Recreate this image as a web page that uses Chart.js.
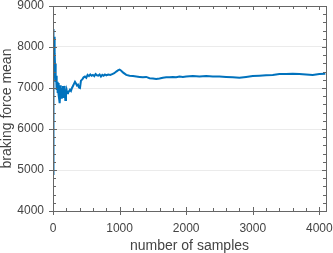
<!DOCTYPE html>
<html>
<head>
<meta charset="utf-8">
<script src="https://cdn.jsdelivr.net/npm/chart.js@4/dist/chart.umd.min.js"></script>
<style>
  html, body { margin: 0; padding: 0; background: #fff; }
</style>
</head>
<body>
<canvas id="meanChart" width="333" height="253"></canvas>
<script>
// running mean of braking force vs number of samples
const samples = [0, 2, 4, 6, 8, 10, 13, 16, 19, 22, 26, 30, 34, 38, 42, 46, 50, 55, 60, 65,
    70, 76, 82, 88, 95, 100, 106, 112, 118, 125, 132, 140, 148, 155, 162, 168, 175, 185, 195, 205,
    215, 225, 240, 255, 270, 285, 300, 315, 330, 345, 360, 375, 390, 405, 420, 440, 460, 480, 500, 520,
    540, 560, 580, 600, 620, 640, 660, 680, 700, 720, 740, 760, 780, 800, 830, 860, 890, 920, 950, 975,
    1000, 1025, 1050, 1075, 1100, 1150, 1200, 1250, 1300, 1350, 1400, 1450, 1500, 1550, 1600, 1650, 1700, 1750, 1800, 1850,
    1900, 1950, 2000, 2100, 2200, 2300, 2400, 2500, 2600, 2700, 2800, 2900, 3000, 3100, 3200, 3300, 3400, 3500, 3600, 3700,
    3800, 3900, 4000, 4090];
const meanForce = [4900, 6300, 7600, 8100, 8440, 8300, 8000, 8250, 7900, 8100, 7700, 7850, 7400, 7600, 7150, 7300, 7050, 7220, 6950, 7150,
    6880, 6950, 7120, 6820, 6700, 6630, 6800, 7070, 6900, 6760, 7000, 6900, 7050, 6780, 6850, 7050, 6950, 6710, 6850, 6950,
    6870, 6880, 6920, 6960, 6930, 7000, 7050, 7100, 7150, 7110, 7060, 7080, 7010, 7000, 7180, 7210, 7260, 7280, 7250, 7320,
    7290, 7330, 7300, 7320, 7290, 7340, 7310, 7300, 7330, 7280, 7320, 7300, 7330, 7310, 7330, 7320, 7340, 7360, 7400, 7430,
    7450, 7420, 7380, 7350, 7320, 7300, 7290, 7280, 7270, 7260, 7270, 7240, 7230, 7220, 7230, 7250, 7260, 7260, 7270, 7260,
    7280, 7270, 7280, 7290, 7280, 7290, 7280, 7280, 7270, 7260, 7250, 7270, 7290, 7300, 7310, 7320, 7340, 7340, 7350, 7340,
    7330, 7320, 7340, 7350];
const xTicks = [0, 1000, 2000, 3000, 4000];
const yTicks = [4000, 5000, 6000, 7000, 8000, 9000];

const points = samples.map((s, i) => ({ x: s, y: meanForce[i] }));

const fontFamily = "'Liberation Sans', Arial, Helvetica, sans-serif";
const textColor = '#444';

// minor ticks every 200 on both axes, labels only on the majors
function stepTicks(min, max) {
    const out = [];
    for (let v = min; v <= max; v += 200) out.push({ value: v });
    return out;
}

function fixBox(scale) {
    scale.paddingLeft = 0;
    scale.paddingRight = 0;
    scale.paddingTop = 0;
    scale.paddingBottom = 0;
}

// matlab-ish box with ticks on all four sides
const frameTicks = {
    id: 'frameTicks',
    afterDraw(chart) {
        const { ctx, chartArea: a, scales: { x, y } } = chart;
        ctx.save();
        ctx.strokeStyle = '#666';
        ctx.lineWidth = 1;
        ctx.beginPath();
        x.ticks.forEach(t => {
            const px = Math.round(x.getPixelForValue(t.value)) + 0.5;
            const major = xTicks.includes(t.value);
            const len = major ? 4 : 3;
            ctx.moveTo(px, a.bottom + (major ? 4 : 0));
            ctx.lineTo(px, a.bottom - len);
            ctx.moveTo(px, a.top);
            ctx.lineTo(px, a.top + len);
        });
        y.ticks.forEach(t => {
            const py = Math.round(y.getPixelForValue(t.value)) + 0.5;
            const major = yTicks.includes(t.value);
            const len = major ? 4 : 3;
            ctx.moveTo(a.left - (major ? 4 : 0), py);
            ctx.lineTo(a.left + len, py);
            ctx.moveTo(a.right, py);
            ctx.lineTo(a.right - len, py);
        });
        ctx.stroke();
        ctx.strokeRect(Math.round(a.left) + 0.5, Math.round(a.top) + 0.5,
            Math.round(a.right - a.left), Math.round(a.bottom - a.top));
        ctx.restore();
    }
};

new Chart('meanChart', {
    type: 'line',
    data: {
        datasets: [{
            data: points,
            borderColor: 'rgb(0, 114, 189)',
            borderWidth: 2,
            pointRadius: 0,
            tension: 0,
            fill: false
        }]
    },
    options: {
        responsive: false,
        animation: false,
        layout: { padding: { top: 6, right: 7, left: 0, bottom: 0 } },
        plugins: {
            legend: { display: false },
            tooltip: { enabled: false }
        },
        scales: {
            x: {
                type: 'linear',
                min: 0,
                max: 4100,
                afterBuildTicks: s => { s.ticks = stepTicks(0, 4000); },
                afterFit: s => { s.height = 42; fixBox(s); },
                border: { display: false },
                grid: { drawOnChartArea: false, drawTicks: false },
                ticks: {
                    padding: 10,
                    autoSkip: false,
                    maxRotation: 0,
                    color: textColor,
                    font: { family: fontFamily, size: 12 },
                    callback: v => xTicks.includes(v) ? String(v) : ''
                },
                title: {
                    display: true,
                    text: 'number of samples',
                    color: textColor,
                    padding: 0,
                    font: { family: fontFamily, size: 14, lineHeight: 1 }
                }
            },
            y: {
                min: 4000,
                max: 9000,
                afterBuildTicks: s => { s.ticks = stepTicks(4000, 9000); },
                afterFit: s => { s.width = 53; fixBox(s); },
                border: { display: false },
                grid: {
                    drawTicks: false,
                    color: c => (c.tick && yTicks.includes(c.tick.value)) ? '#ebebeb' : 'rgba(0,0,0,0)'
                },
                ticks: {
                    padding: 9,
                    autoSkip: false,
                    color: textColor,
                    font: { family: fontFamily, size: 12 },
                    callback: v => yTicks.includes(v) ? String(v) : ''
                },
                title: {
                    display: true,
                    text: 'braking force mean',
                    color: textColor,
                    padding: 0,
                    font: { family: fontFamily, size: 14, lineHeight: 1 }
                }
            }
        }
    },
    plugins: [frameTicks]
});
</script>
</body>
</html>
